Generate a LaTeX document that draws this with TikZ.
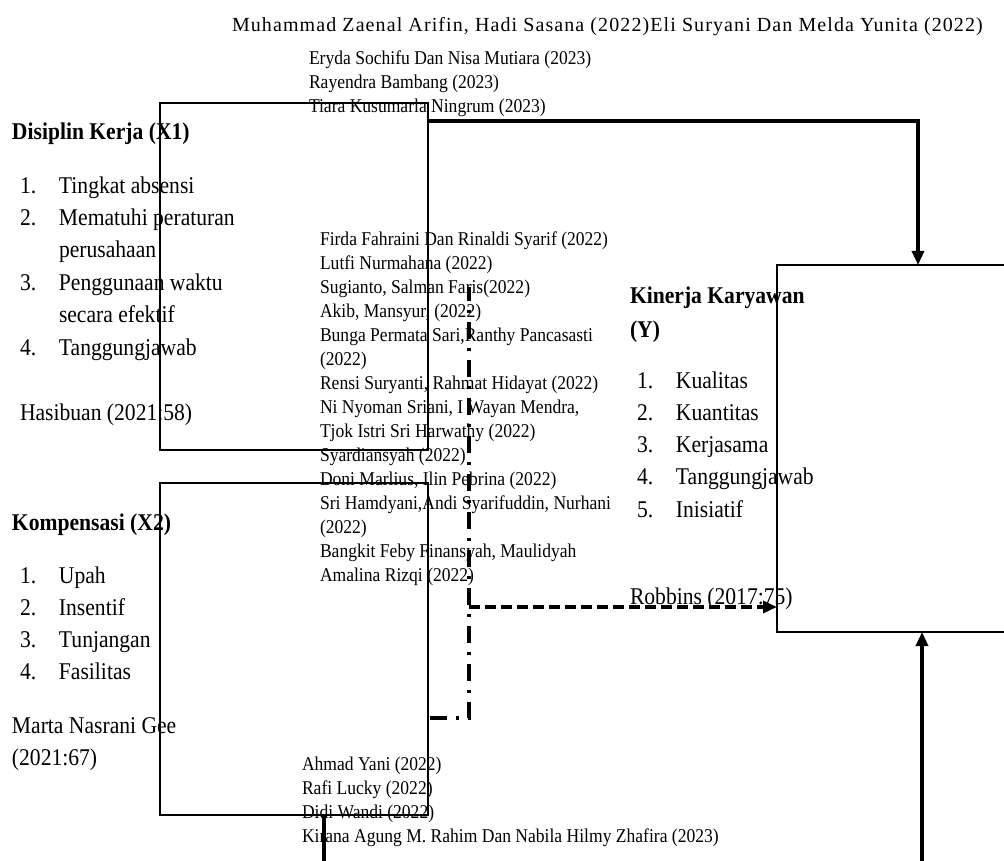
\documentclass[tikz,border=0pt]{standalone}
\usepackage{fontspec}
\setmainfont{Liberation Serif}[FakeStretch=0.9]
\newfontfamily\titlefont{Liberation Serif}[LetterSpace=5.5]
\usetikzlibrary{arrows.meta,calc}
\begin{document}
\begin{tikzpicture}[x=1pt,y=-1pt,
  box/.style={draw,line width=2.3pt,rectangle,inner sep=0pt,outer sep=0pt,anchor=north west},
  txt/.style={anchor=base west,inner sep=0pt,outer sep=0pt,align=left},
  big/.style={font=\fontsize{24}{32.4}\selectfont},
  bighead/.style={font=\fontsize{24}{34}\selectfont\bfseries},
  cite/.style={font=\fontsize{19.5}{24}\selectfont},
  conn/.style={line width=3.3pt},
  tip/.style={-{Triangle[width=12pt,length=14pt]}},
  dashdot/.style={dash pattern=on 17pt off 9pt on 3pt off 9pt},
  dashline/.style={dash pattern=on 11pt off 5pt},
]
\useasboundingbox (0,0) rectangle (1004,861);
\fill[white] (0,0) rectangle (1004,861);

% boxes
\node[box,minimum width=268pt,minimum height=347pt] (x1box) at (160,103) {};
\node[box,minimum width=268pt,minimum height=332pt] (x2box) at (160,483) {};
\node[box,minimum width=260pt,minimum height=367pt] (ybox) at (777,265) {};

% title
\node[txt,font=\titlefont\fontsize{20}{24}\selectfont] (title) at (232,31.5)
  {Muhammad Zaenal Arifin, Hadi Sasana (2022)Eli Suryani Dan Melda Yunita (2022)};

% citations (multi-line nodes: base = last line's baseline)
\node[txt,cite] (citeA) at (309,113)
  {Eryda Sochifu Dan Nisa Mutiara (2023)\\
   Rayendra Bambang (2023)\\
   Tiara Kusumarla Ningrum (2023)};
\node[txt,cite] (citeB) at (320,581)
  {Firda Fahraini Dan Rinaldi Syarif (2022)\\
   Lutfi Nurmahana (2022)\\
   Sugianto, Salman Faris(2022)\\
   Akib, Mansyur, (2022)\\
   Bunga Permata Sari,Ranthy Pancasasti\\
   (2022)\\
   Rensi Suryanti, Rahmat Hidayat (2022)\\
   Ni Nyoman Sriani, I Wayan Mendra,\\
   Tjok Istri Sri Harwathy (2022)\\
   Syardiansyah (2022)\\
   Doni Marlius, Ilin Pebrina (2022)\\
   Sri Hamdyani,Andi Syarifuddin, Nurhani\\
   (2022)\\
   Bangkit Feby Finansyah, Maulidyah\\
   Amalina Rizqi (2022)};
\node[txt,cite] (citeC) at (302,842)
  {Ahmad Yani (2022)\\
   Rafi Lucky (2022)\\
   Didi Wandi (2022)\\
   Kirana Agung M. Rahim Dan Nabila Hilmy Zhafira (2023)};

% X1
\node[txt,bighead] (x1head) at (12,140) {Disiplin Kerja (X1)};
\node[txt,big] (x1list) at (20,355)
  {\makebox[39pt][l]{1.}Tingkat absensi\\
   \makebox[39pt][l]{2.}Mematuhi peraturan\\
   \makebox[39pt][l]{}perusahaan\\
   \makebox[39pt][l]{3.}Penggunaan waktu\\
   \makebox[39pt][l]{}secara efektif\\
   \makebox[39pt][l]{4.}Tanggungjawab};
\node[txt,big] (x1src) at (20,420) {Hasibuan (2021:58)};

% X2
\node[txt,bighead] (x2head) at (12,530) {Kompensasi (X2)};
\node[txt,font=\fontsize{24}{32}\selectfont] (x2list) at (20,679)
  {\makebox[39pt][l]{1.}Upah\\
   \makebox[39pt][l]{2.}Insentif\\
   \makebox[39pt][l]{3.}Tunjangan\\
   \makebox[39pt][l]{4.}Fasilitas};
\node[txt,font=\fontsize{24}{32}\selectfont] (x2src) at (12,765) {Marta Nasrani Gee\\(2021:67)};

% Y
\node[txt,bighead] (yhead) at (630,337) {Kinerja Karyawan\\(Y)};
\node[txt,font=\fontsize{24}{32.25}\selectfont] (ylist) at (637,517)
  {\makebox[39pt][l]{1.}Kualitas\\
   \makebox[39pt][l]{2.}Kuantitas\\
   \makebox[39pt][l]{3.}Kerjasama\\
   \makebox[39pt][l]{4.}Tanggungjawab\\
   \makebox[39pt][l]{5.}Inisiatif};
\node[txt,big] (ysrc) at (630,604) {Robbins (2017:75)};

% connectors
\coordinate (ddtop) at (469,287);
\coordinate (ddjoin) at (469,607);
\coordinate (botL) at (324,880);
\coordinate (botR) at (922,880);

\draw[conn,tip] ($(x1box.north east)+(0,18)$) -| ($(ybox.north west)+(141,0)$);
\draw[conn,dashdot] ($(x2box.north east)+(2,235)$) -| (ddtop);
\draw[conn,dashline,tip] (ddjoin) -- (ddjoin -| ybox.west);
\draw[conn] (botL |- x2box.south) -- (botL);
\draw[conn,tip] (botR) -- (botR |- ybox.south);
\end{tikzpicture}
\end{document}
